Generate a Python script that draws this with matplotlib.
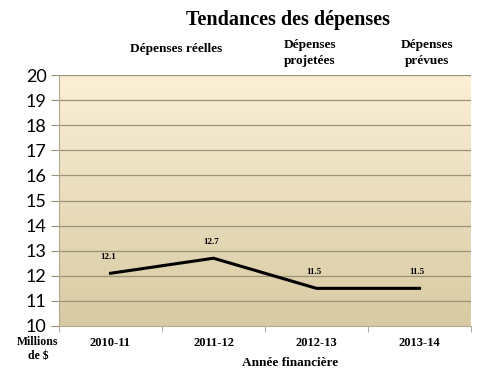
import matplotlib.pyplot as plt
import numpy as np
from matplotlib.colors import LinearSegmentedColormap

years = ['2010-11', '2011-12', '2012-13', '2013-14']
spending = [12.1, 12.7, 11.5, 11.5]
yticks = list(range(10, 21))

fig = plt.figure(figsize=(4.8, 3.76), dpi=100)
ax = fig.add_axes([59/480, 1-326/376, 412/480, 251/376])

# gradient background
cmap = LinearSegmentedColormap.from_list('bg', ['#d8caa2', '#e9ddbd', '#fcefd6'])
grad = np.linspace(0, 1, 256).reshape(-1, 1)
ax.imshow(grad, cmap=cmap, aspect='auto', origin='lower',
          extent=[-0.5, 3.5, 10, 20], zorder=0)

x = np.arange(len(years))
ax.plot(x, spending, color='black', linewidth=2.2, zorder=3)
for xi, v in zip(x, spending):
    ax.annotate(str(v), (xi, v), xytext=(-2, 10), textcoords='offset points',
                ha='center', fontsize=6.5, fontweight='bold', family='Liberation Serif')

ax.set_xlim(-0.5, 3.5)
ax.set_ylim(10, 20)
ax.set_yticks(yticks)
ax.set_yticklabels([str(t) for t in yticks], fontsize=13, family='Lato')
for t in yticks[1:]:
    ax.axhline(t, color='#9c9278', linewidth=0.9, zorder=1)
ax.tick_params(axis='y', length=6, color='#9c9278', pad=3)

ax.set_xticks(x)
ax.set_xticklabels(years, fontsize=9, fontweight='bold', family='Liberation Serif')
ax.set_xticks(np.arange(-0.5, 4, 1), minor=True)
ax.tick_params(axis='x', which='major', length=0, pad=8)
ax.tick_params(axis='x', which='minor', length=4, color='#a09a90')

for s in ['top', 'right']:
    ax.spines[s].set_visible(False)
ax.spines['left'].set_color('#b0a890')
ax.spines['bottom'].set_color('#b0a890')

serif = dict(family='Liberation Serif', fontweight='bold')
fig.text(288/480, 1-20/376, 'Tendances des dépenses', ha='center', va='center', fontsize=14.5, **serif)
fig.text(176/480, 1-49/376, 'Dépenses réelles', ha='center', va='center', fontsize=9.5, **serif)
fig.text(310/480, 1-53/376, 'Dépenses\nprojetées', ha='center', va='center', fontsize=9.5, linespacing=1.35, **serif)
fig.text(427/480, 1-53/376, 'Dépenses\nprévues', ha='center', va='center', fontsize=9.5, linespacing=1.35, **serif)
fig.text(38/480, 1-349/376, 'Millions\nde $', ha='center', va='center', fontsize=8.5, linespacing=1.3, **serif)
fig.text(290/480, 1-363/376, 'Année financière', ha='center', va='center', fontsize=9.5, **serif)

plt.savefig('out.png', dpi=100, facecolor='white')
